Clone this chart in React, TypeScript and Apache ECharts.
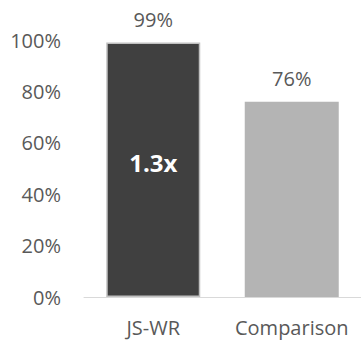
import React, { useEffect, useRef } from "react";
import * as echarts from "echarts";

const categories = ["JS-WR", "Comparison"];
const values = [99, 76];
const barColors = ["#404040", "#b4b4b4"];
const insideLabels = ["1.3x", ""];
const yTicks = [0, 20, 40, 60, 80, 100];

export default function App() {
  const ref = useRef<HTMLDivElement>(null);
  useEffect(() => {
    if (!ref.current) return;
    const chart = echarts.init(ref.current, null, { renderer: "svg" });
    const font = "'Open Sans', 'Liberation Sans', sans-serif";
    chart.setOption({
      animation: false,
      grid: { left: 84, top: 40, width: 280, height: 257 },
      xAxis: {
        type: "category",
        data: categories,
        axisLine: { show: true, lineStyle: { color: "#d9d9d9", width: 1 } },
        axisTick: { show: false },
        axisLabel: {
          interval: 0,
          hideOverlap: false,
          color: "#595959",
          fontSize: 20,
          fontFamily: font,
          margin: 20,
        },
      },
      yAxis: {
        type: "value",
        min: yTicks[0],
        max: yTicks[yTicks.length - 1],
        interval: 20,
        splitLine: { show: false },
        axisLine: { show: false },
        axisTick: { show: false },
        axisLabel: {
          formatter: "{value}%",
          color: "#595959",
          fontSize: 20,
          fontFamily: font,
          margin: 23,
        },
      },
      series: [
        {
          type: "bar",
          barWidth: 94,
          data: values.map((v, i) => ({
            value: v,
            itemStyle: {
              color: barColors[i],
              borderColor: i === 0 ? "#c0c0c0" : barColors[i],
              borderWidth: i === 0 ? 1.5 : 0,
            },
          })),
          label: {
            show: true,
            position: "top",
            distance: 13,
            formatter: "{c}%",
            color: "#595959",
            fontSize: 20,
            fontFamily: font,
          },
        },
        {
          type: "bar",
          barWidth: 94,
          barGap: "-100%",
          silent: true,
          itemStyle: { color: "transparent" },
          data: values.map((v, i) => (insideLabels[i] ? v : "-")),
          label: {
            show: true,
            position: "inside",
            offset: [0, -7],
            formatter: (p: any) => insideLabels[p.dataIndex],
            color: "#ffffff",
            fontSize: 24,
            fontWeight: "bold",
            fontFamily: font,
          },
        },
      ],
    });
    return () => chart.dispose();
  }, []);
  return <div ref={ref} style={{ width: 361, height: 344, position: "absolute", left: 0, top: 0 }} />;
}
